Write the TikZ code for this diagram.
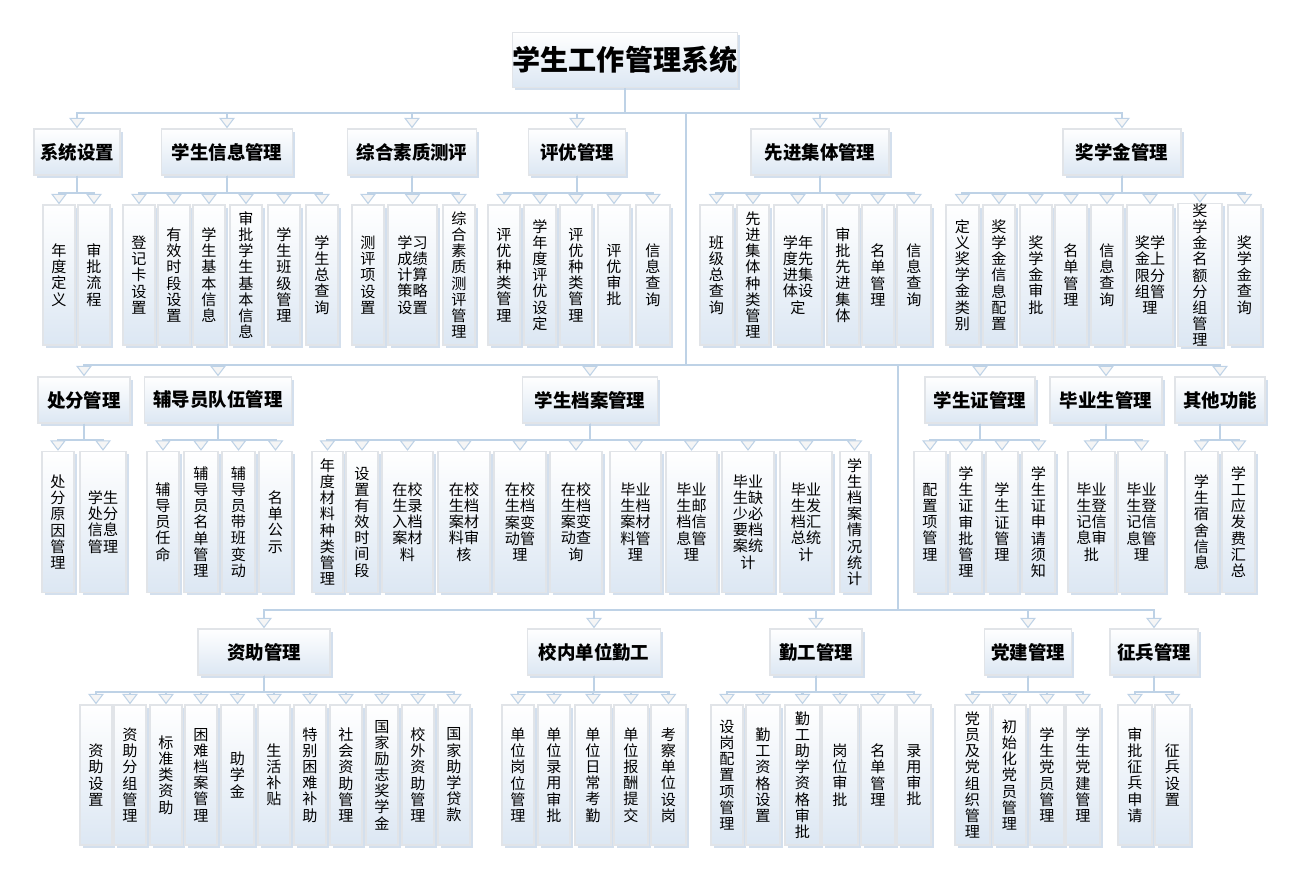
\documentclass[tikz,border=0pt]{standalone}
\usepackage{fontspec}
\setmainfont{Noto Sans CJK SC}
\XeTeXlinebreaklocale "zh"
\XeTeXlinebreakskip = 0pt plus 1pt
\usetikzlibrary{arrows.meta,shadows}

\definecolor{lineblue}{RGB}{190,210,230}
\definecolor{boxbot}{RGB}{220,231,243}
\definecolor{boxedge}{RGB}{225,228,232}
\definecolor{shadowblue}{RGB}{200,215,232}

\tikzset{
    box/.style={draw=boxedge, line width=0.8pt, top color=white, bottom color=boxbot,
        drop shadow={shadow xshift=1.6pt, shadow yshift=-1.6pt, fill=shadowblue, opacity=0.8},
        inner sep=0pt, align=center},
    rootbox/.style={box, font=\fontsize{16}{18}\selectfont\bfseries},
    headbox/.style={box, font=\fontsize{10.5}{12}\selectfont\bfseries, minimum height=0.92cm},
    leafbox/.style={box, font=\fontsize{8.6}{9.2}\selectfont, inner xsep=4pt},
    link/.style={draw=lineblue, line width=1.4pt,
        -{Triangle[width=9pt, length=6pt, fill=gray!8, line width=0.6pt]}},
}

% 一组叶子:父节点、名字前缀、分支线 y、方框中心 y、方框高度、列表
\newcommand\leafgroup[6]{%
    \foreach \i/\xa/\xb/\t in {#6} {
        \pgfmathsetmacro{\w}{(\xb - \xa) * 0.02 * 28.4527}
        \pgfmathsetmacro{\tw}{\w - 8}
        \node[leafbox, minimum width=\w pt, minimum height=#5cm, text width=\tw pt]
            (#2\i) at ({(\xa + \xb) / 2}, #4) {\t};
        \draw[link] (#1.south) -- (#1.south |- 0, #3) -| (#2\i.north);
    }
}

\begin{document}
\begin{tikzpicture}[x=0.02cm, y=-0.02cm]
    \useasboundingbox (0, 0) rectangle (1302, 879);

    \node[rootbox, minimum width=4.5cm, minimum height=1.1cm] (root) at (625, 60) {学生工作管理系统};

    % 第一行
    \coordinate (busA) at (686, 113);
    \node[headbox, minimum width=1.72cm] (xt) at (77, 152) {系统设置};
    \node[headbox, minimum width=2.62cm] (xx) at (227, 152) {学生信息管理};
    \node[headbox, minimum width=2.58cm] (zh) at (412, 152) {综合素质测评};
    \node[headbox, minimum width=1.94cm] (py) at (577, 152) {评优管理};
    \node[headbox, minimum width=2.76cm] (xj) at (820, 152) {先进集体管理};
    \node[headbox, minimum width=2.36cm] (jx) at (1122, 152) {奖学金管理};
    \foreach \g in {xt, xx, zh, py, xj, jx}
        \draw[link] (root.south) -- (root.south |- busA) -| (\g.north);

    % 第二行
    \coordinate (busB) at (686, 365);
    \node[headbox, minimum width=1.84cm] (cf) at (84, 400) {处分管理};
    \node[headbox, minimum width=2.94cm] (fd) at (218, 400) {辅导员队伍管理};
    \node[headbox, minimum width=2.70cm] (da) at (590, 400) {学生档案管理};
    \node[headbox, minimum width=2.20cm] (xz) at (980, 400) {学生证管理};
    \node[headbox, minimum width=2.24cm] (by) at (1106, 400) {毕业生管理};
    \node[headbox, minimum width=1.80cm] (qt) at (1220, 400) {其他功能};
    \foreach \g in {cf, fd, da, xz, by, qt}
        \draw[link] (root.south) -- (root.south |- busA) -- (busA) -- (busB) -| (\g.north);

    % 第三行
    \coordinate (busC) at (898, 610);
    \node[headbox, minimum width=2.64cm] (zz) at (264, 652) {资助管理};
    \node[headbox, minimum width=2.66cm] (qn) at (594, 652) {校内单位勤工};
    \node[headbox, minimum width=1.84cm] (qg) at (816, 652) {勤工管理};
    \node[headbox, minimum width=1.74cm] (dj) at (1028, 652) {党建管理};
    \node[headbox, minimum width=1.76cm] (zb) at (1154, 652) {征兵管理};
    \foreach \g in {zz, qn, qg, dj, zb}
        \draw[link] (root.south) -- (root.south |- busA) -- (busA) -- (busB) -- (busB -| busC) -- (busC) -| (\g.north);

    % 叶子
    \leafgroup{xt}{xt}{193}{275}{2.8}{1/43/75/年度定义, 2/78/110/审批流程}
    \leafgroup{xx}{xx}{193}{275}{2.8}{1/123/155/登记卡设置, 2/158/190/有效时段设置, 3/193/225/学生基本信息,
        4/230/262/审批学生基本信息, 5/268/300/学生班级管理, 6/306/338/学生总查询}
    \leafgroup{zh}{zh}{193}{275}{2.8}{1/352/384/测评项设置, 2/388/437/学习成绩计算策略设置, 3/443/475/综合素质测评管理}
    \leafgroup{py}{py}{193}{275}{2.8}{1/488/520/评优种类管理, 2/524/556/学年度评优设定, 3/560/592/评优种类管理,
        4/598/630/评优审批, 5/636/670/信息查询}
    \leafgroup{xj}{xj}{193}{275}{2.8}{1/700/733/班级总查询, 2/737/769/先进集体种类管理, 3/774/822/学年度先进集体设定,
        4/827/859/审批先进集体, 5/862/894/名单管理, 6/897/931/信息查询}
    \leafgroup{jx}{jx}{193}{275}{2.8}{1/946/979/定义奖学金类别, 2/983/1015/奖学金信息配置, 3/1020/1052/奖学金审批,
        4/1055/1087/名单管理, 5/1091/1123/信息查询, 6/1127/1173/奖学金上限分组管理,
        7/1178/1222/奖学金名额分组管理, 8/1228/1261/奖学金查询}

    \leafgroup{cf}{cf}{440}{522}{2.82}{1/42/74/处分原因管理, 2/80/126/学生处分信息管理}
    \leafgroup{fd}{fd}{440}{522}{2.82}{1/147/179/辅导员任命, 2/184/218/辅导员名单管理, 3/222/255/辅导员带班变动, 4/259/292/名单公示}
    \leafgroup{da}{da}{440}{522}{2.82}{1/312/343/年度材料种类管理, 2/346/378/设置有效时间段, 3/382/433/在校生录入档案材料,
        4/438/490/在校生档案材料审核, 5/494/546/在校生档案变动管理, 6/550/602/在校生档案变动查询,
        7/610/661/毕业生档案材料管理, 8/666/717/毕业生邮档信息管理, 9/722/774/毕业生缺少必要档案统计,
        10/780/832/毕业生发档汇总统计, 11/840/869/学生档案情况统计}
    \leafgroup{xz}{xz}{440}{522}{2.82}{1/914/946/配置项管理, 2/950/982/学生证审批管理, 3/986/1018/学生证管理, 4/1022/1055/学生证申请须知}
    \leafgroup{by}{by}{440}{522}{2.82}{1/1068/1115/毕业生登记信息审批, 2/1118/1165/毕业生登记信息管理}
    \leafgroup{qt}{qt}{440}{522}{2.82}{1/1185/1218/学生宿舍信息, 2/1222/1255/学工应发费汇总}

    \leafgroup{zz}{zz}{692}{775}{2.8}{1/80/112/资助设置, 2/114/146/资助分组管理, 3/150/182/标准类资助, 4/185/217/困难档案管理,
        5/221/254/助学金, 6/258/290/生活补贴, 7/294/326/特别困难补助, 8/330/362/社会资助管理,
        9/366/398/国家励志奖学金, 10/402/434/校外资助管理, 11/438/470/国家助学贷款}
    \leafgroup{qn}{qn}{692}{775}{2.8}{1/502/534/单位岗位管理, 2/538/570/单位录用审批, 3/575/611/单位日常考勤,
        4/614/648/单位报酬提交, 5/651/686/考察单位设岗}
    \leafgroup{qg}{qg}{692}{775}{2.8}{1/711/743/设岗配置项管理, 2/746/780/勤工资格设置, 3/785/820/勤工助学资格审批,
        4/822/858/岗位审批, 5/861/895/名单管理, 6/897/931/录用审批}
    \leafgroup{dj}{dj}{692}{775}{2.8}{1/955/990/党员及党组织管理, 2/993/1026/初始化党员管理, 3/1030/1064/学生党员管理, 4/1066/1100/学生党建管理}
    \leafgroup{zb}{zb}{692}{775}{2.8}{1/1118/1152/审批征兵申请, 2/1155/1190/征兵设置}
\end{tikzpicture}
\end{document}
